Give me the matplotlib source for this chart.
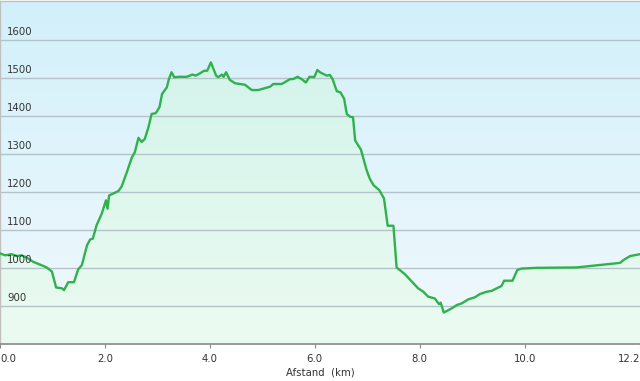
import matplotlib
matplotlib.use("Agg")
import matplotlib.pyplot as plt
import matplotlib.transforms as mtransforms
import numpy as np
from matplotlib.colors import LinearSegmentedColormap

# distance (km) and elevation (m)
distance_km = [
    0.00, 0.10, 0.22, 0.32, 0.41, 0.51, 0.63, 0.79, 0.89, 0.99,
    1.07, 1.18, 1.22, 1.30, 1.41, 1.49, 1.56, 1.66, 1.72, 1.77,
    1.84, 1.94, 2.02, 2.05, 2.08, 2.16, 2.26, 2.32, 2.42, 2.51,
    2.57, 2.64, 2.70, 2.76, 2.83, 2.89, 2.97, 3.04, 3.09, 3.18,
    3.22, 3.27, 3.32, 3.43, 3.56, 3.67, 3.73, 3.81, 3.89, 3.95,
    4.02, 4.12, 4.16, 4.23, 4.26, 4.31, 4.38, 4.48, 4.67, 4.80,
    4.92, 5.15, 5.21, 5.37, 5.53, 5.59, 5.67, 5.75, 5.83, 5.90,
    5.99, 6.05, 6.10, 6.23, 6.29, 6.34, 6.42, 6.49, 6.56, 6.61,
    6.67, 6.73, 6.77, 6.88, 6.99, 7.05, 7.12, 7.23, 7.32, 7.39,
    7.50, 7.56, 7.72, 7.97, 8.07, 8.16, 8.29, 8.37, 8.40, 8.46,
    8.61, 8.71, 8.80, 8.93, 9.05, 9.15, 9.28, 9.37, 9.47, 9.56,
    9.61, 9.77, 9.86, 9.94, 10.23, 10.99, 11.82, 11.88, 12.01, 12.20,
]
elevation_m = [
    1038, 1033, 1036, 1031, 1033, 1027, 1016, 1007, 1001, 990,
    948, 946, 941, 962, 962, 996, 1007, 1060, 1075, 1077,
    1112, 1143, 1178, 1156, 1191, 1196, 1203, 1215, 1253, 1290,
    1305, 1343, 1332, 1340, 1371, 1406, 1408, 1424, 1459, 1476,
    1498, 1516, 1503, 1504, 1504, 1510, 1507, 1513, 1520, 1520,
    1542, 1507, 1503, 1510, 1504, 1516, 1496, 1487, 1483, 1469,
    1469, 1478, 1485, 1485, 1498, 1498, 1504, 1498, 1489, 1504,
    1503, 1522, 1516, 1507, 1509, 1498, 1466, 1463, 1446, 1406,
    1399, 1397, 1336, 1312, 1257, 1235, 1218, 1205, 1183, 1111,
    1111, 1001, 983, 946, 937, 924, 919, 904, 908, 882,
    893, 902, 906, 917, 922, 931, 937, 939, 946, 952,
    966, 966, 994, 998, 1000, 1001, 1013, 1020, 1031, 1036,
]

y_ticks = [900, 1000, 1100, 1200, 1300, 1400, 1500, 1600]
x_ticks = [0.0, 2.0, 4.0, 6.0, 8.0, 10.0, 12.2]
x_tick_labels = ["0.0", "2.0", "4.0", "6.0", "8.0", "10.0", "12.2"]

x_min, x_max = 0.0, 12.2
y_min, y_max = 799, 1704

fig = plt.figure(figsize=(6.4, 3.81), dpi=100)
fig.patch.set_facecolor("white")
ax = fig.add_axes([0.0, 37 / 381, 1.0, 343 / 381])
ax.set_xlim(x_min, x_max)
ax.set_ylim(y_min, y_max)

# sky gradient behind everything
sky = LinearSegmentedColormap.from_list("sky", ["#f1f9fd", "#d2f0fa"])
grad = np.linspace(0, 1, 256).reshape(-1, 1)
ax.imshow(grad, cmap=sky, origin="lower", aspect="auto",
          extent=[x_min, x_max, y_min, y_max], zorder=0)

# green gradient under the profile, clipped to the area
green = LinearSegmentedColormap.from_list("green", ["#ecfbf1", "#d3f4eb"])
fill_img = ax.imshow(grad, cmap=green, origin="lower", aspect="auto",
                     extent=[x_min, x_max, y_min, 1560], zorder=1)
poly = ax.fill_between(distance_km, elevation_m, y_min, color="none", lw=0)
clip_path = poly.get_paths()[0]
fill_img.set_clip_path(clip_path, transform=ax.transData)

for yt in y_ticks:
    ax.axhline(yt, color="#b4c3c9", lw=1.0, zorder=2)

ax.plot(distance_km, elevation_m, color="#2fb24c", lw=1.7, zorder=3,
        solid_joinstyle="round")

# y labels sit inside the plot, just above each gridline
off = mtransforms.offset_copy(ax.get_yaxis_transform(), fig=fig, x=0, y=2.2, units="points")
for yt in y_ticks:
    ax.text(0.011, yt, str(yt), transform=off, fontsize=7.3, color="#333333",
            ha="left", va="bottom", zorder=4)
ax.set_yticks([])

ax.set_xticks(x_ticks)
ax.set_xticklabels(x_tick_labels, fontsize=7.3, color="#333333")
labels = ax.get_xticklabels()
labels[0].set_ha("left")
labels[-1].set_ha("right")
ax.tick_params(axis="x", length=3, color="#888888", pad=4)

ax.set_xlabel("Afstand  (km)", fontsize=7.3, color="#333333", labelpad=3)

for side in ["top", "left"]:
    ax.spines[side].set_color("#c0c0c0")
    ax.spines[side].set_linewidth(1.0)
ax.spines["right"].set_visible(False)
ax.spines["bottom"].set_color("#888888")
ax.spines["bottom"].set_linewidth(1.2)

fig.savefig("out.png", dpi=100)
